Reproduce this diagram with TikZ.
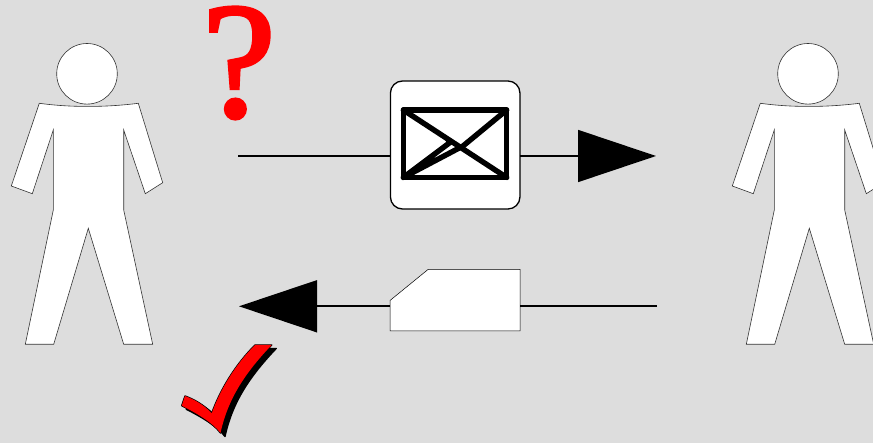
\documentclass[tikz,border=0pt]{standalone}
\usepackage{fontspec}
\setmainfont{Liberation Serif}
\newfontfamily\qfont[FakeBold=2.2]{Liberation Serif}
\usetikzlibrary{arrows.meta}
\definecolor{bggray}{HTML}{DDDDDD}
\tikzset{
  x=1pt,y=-1pt,
  personpart/.style={draw=black!80,line width=0.6pt,fill=white,line join=miter},
  msgbox/.style={draw=black,line width=1.3pt,fill=white,rounded corners=12pt,minimum width=129.5pt,minimum height=128pt,inner sep=0pt,outer sep=0pt},
  wire/.style={draw=black,line width=1.6pt},
  bigarrow/.style={wire,-{Triangle[length=78pt,width=52pt]}},
  envline/.style={draw=black,line width=5.4pt,line cap=round,line join=round},
  ghostbox/.style={minimum width=130pt,minimum height=62pt,inner sep=0pt,outer sep=0pt},
  checkpath/.style={line width=1.4pt,line join=round},
  person/.pic={
    \path[personpart] (87,73.8) circle[radius=30.3];
    \path[personpart] (39.3,103.3) .. controls (70,107.5) and (105,107.5) .. (138.3,103.3)
      -- (162.7,182.7) -- (145.3,193.7) -- (123.7,130) -- (123.7,210) -- (152.7,344.3)
      -- (123.7,344.3) -- (88.3,228.3) -- (53.7,344.3) -- (25.3,344.3) -- (53.3,210)
      -- (53.3,130) -- (32.3,193.7) -- (11.3,186) -- cycle;
  }
}
\newcommand{\checkshape}{(255,345) -- (271.7,345)
  .. controls (246,372) and (228,398) .. (220.5,433)
  .. controls (213,423) and (198,414) .. (181.7,405.7)
  -- (185,396) .. controls (196,400) and (205,406) .. (211.7,413.3)
  .. controls (220,390) and (235,365) .. (255,345) -- cycle}
\begin{document}
\begin{tikzpicture}
\path[use as bounding box,fill=bggray] (0,0) rectangle (873,443);
\pic at (0,0) {person};
\pic at (721,0) {person};
% top channel
\coordinate (topstart) at (238,156);
\coordinate (topend) at (656,156);
\node[msgbox] (mail) at (455.2,145) {};
\draw[wire] (topstart) -- (topstart -| mail.west);
\draw[bigarrow] (topend -| mail.east) -- (topend);
\draw[envline] (403.3,110) rectangle (506.7,177.5);
\draw[envline] (403.3,110) -- (506.7,177.5);
\draw[envline] (506.7,110) -- (463,146) -- (403.3,177.5) -- (450,142.5) -- (448,139.5);
% bottom channel
\coordinate (botstart) at (657,306.3);
\coordinate (botend) at (239,306.3);
\node[ghostbox] (packet) at (455,300.3) {};
\draw[black,line width=0.5pt,fill=white] (390,300.5) -- (428,269.5) -- (520,269.5) -- (520,331) -- (390,331) -- cycle;
\draw[wire] (botstart) -- (botstart -| packet.east);
\draw[bigarrow] (botend -| packet.west) -- (botend);
% question mark
\node[text=red,font=\fontsize{165}{165}\qfont,inner sep=0pt] (query) at (239,63) {?};
% check mark
\path[fill=black,draw=black,checkpath,shift={(4.5,3.5)}] \checkshape;
\path[fill=black,draw=black,checkpath] \checkshape;
\path[fill=red] \checkshape;
\end{tikzpicture}
\end{document}
